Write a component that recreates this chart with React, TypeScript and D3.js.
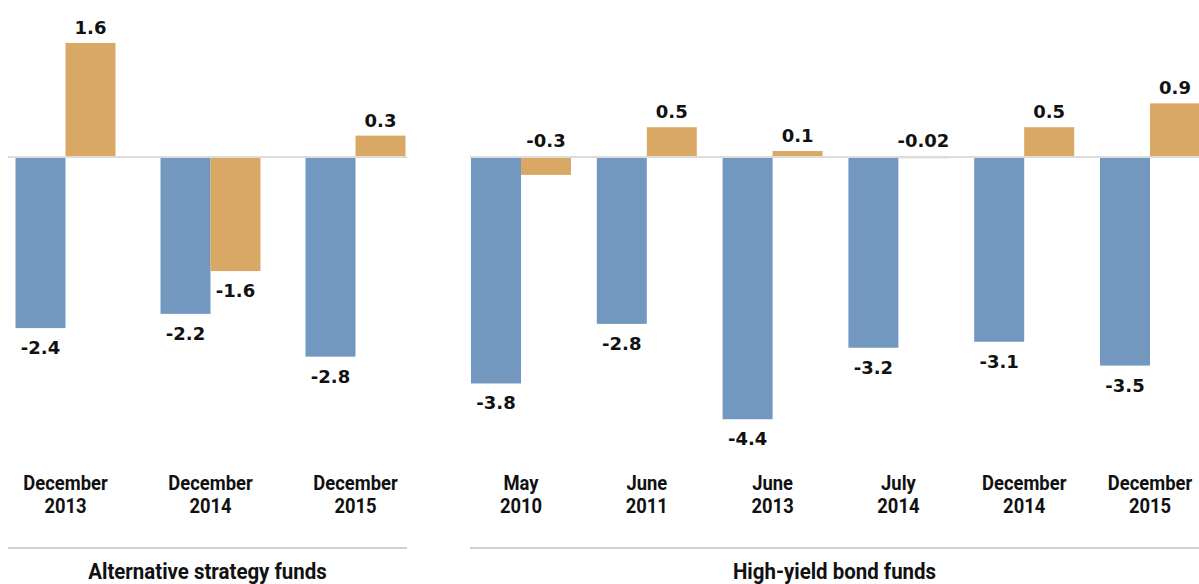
import React from "react";
import * as d3 from "d3";

// ---- Data ----
const altCategories: string[][] = [
  ["December", "2013"],
  ["December", "2014"],
  ["December", "2015"],
];
const altBlue: number[] = [-2.4, -2.2, -2.8];
const altOrange: number[] = [1.6, -1.6, 0.3];
const altTitle = "Alternative strategy funds";

const hyCategories: string[][] = [
  ["May", "2010"],
  ["June", "2011"],
  ["June", "2013"],
  ["July", "2014"],
  ["December", "2014"],
  ["December", "2015"],
];
const hyBlue: number[] = [-3.8, -2.8, -4.4, -3.2, -3.1, -3.5];
const hyOrange: number[] = [-0.3, 0.5, 0.1, -0.02, 0.5, 0.9];
const hyTitle = "High-yield bond funds";

const BLUE = "#7298c0";
const ORANGE = "#d9a865";
const FONT = "'DejaVu Sans', sans-serif";
const COND = "Roboto, 'Noto Sans', sans-serif";

type PanelProps = {
  categories: string[][];
  blue: number[];
  orange: number[];
  title: string;
  centerRange: [number, number];
  yDomain: [number, number];
  yRange: [number, number];
  lineX: [number, number];
};

function Panel({ categories, blue, orange, title, centerRange, yDomain, yRange, lineX }: PanelProps) {
  const idx = categories.map((_, i) => String(i));
  const xc = d3.scalePoint<string>().domain(idx).range(centerRange);
  const inner = d3.scaleBand<string>().domain(["blue", "orange"]).range([-50, 50]).padding(0);
  const y = d3.scaleLinear().domain(yDomain).range(yRange);
  const y0 = y(0);
  const bw = inner.bandwidth();

  const label = (v: number, series: string) => {
    const top = Math.min(y(v), y0);
    const bottom = Math.max(y(v), y0);
    if (v > 0) return top - 9;
    if (series === "orange" && bottom - y0 < 30) return y0 - 10;
    return bottom + 26;
  };

  return (
    <g>
      {categories.map((cat, i) => {
        const c = xc(String(i)) as number;
        const vals: [string, number, string][] = [
          ["blue", blue[i], BLUE],
          ["orange", orange[i], ORANGE],
        ];
        return (
          <g key={i}>
            {vals.map(([s, v, col]) => {
              const x = c + (inner(s) as number);
              return (
                <rect
                  key={s}
                  x={x}
                  y={Math.min(y(v), y0)}
                  width={bw}
                  height={Math.max(Math.abs(y(v) - y0), 0.8)}
                  fill={col}
                />
              );
            })}
          </g>
        );
      })}
      <line x1={lineX[0]} x2={lineX[1]} y1={y0} y2={y0} stroke="#dcdcdc" strokeWidth={2} />
      {categories.map((cat, i) => {
        const c = xc(String(i)) as number;
        const vals: [string, number][] = [
          ["blue", blue[i]],
          ["orange", orange[i]],
        ];
        return (
          <g key={"l" + i}>
            {vals.map(([s, v]) => (
              <text
                key={s}
                x={c + (inner(s) as number) + bw / 2}
                y={label(v, s)}
                textAnchor="middle"
                fontFamily={FONT}
                fontWeight="bold"
                fontSize={18}
                fill="#111"
              >
                {String(v)}
              </text>
            ))}
            <g transform={`translate(${c},0) scale(0.92,1)`}>
              {cat.map((line, j) => (
                <text
                  key={j}
                  x={0}
                  y={490 + j * 23.5}
                  textAnchor="middle"
                  fontFamily={COND}
                  fontWeight={700}
                  fontSize={20}
                  fill="#111"
                >
                  {line}
                </text>
              ))}
            </g>
          </g>
        );
      })}
      <line x1={lineX[0]} x2={lineX[1]} y1={548} y2={548} stroke="#cfcfcf" strokeWidth={2} />
      <g transform={`translate(${(lineX[0] + lineX[1]) / 2},0) scale(0.93,1)`}>
        <text
          x={0}
          y={579}
          textAnchor="middle"
          fontFamily={COND}
          fontWeight={700}
          fontSize={22}
          fill="#111"
        >
          {title}
        </text>
      </g>
    </g>
  );
}

export default function App() {
  return (
    <svg
      width={1199}
      height={584}
      style={{ position: "absolute", left: 0, top: 0, background: "#fff" }}
    >
      <rect width={1199} height={584} fill="#fff" />
      <Panel
        categories={altCategories}
        blue={altBlue}
        orange={altOrange}
        title={altTitle}
        centerRange={[65.5, 355.5]}
        yDomain={[-3, 2]}
        yRange={[157 + 3 * 71.3, 157 - 2 * 71.3]}
        lineX={[8, 407]}
      />
      <Panel
        categories={hyCategories}
        blue={hyBlue}
        orange={hyOrange}
        title={hyTitle}
        centerRange={[521, 1150]}
        yDomain={[-5, 1]}
        yRange={[157 + 5 * 59.6, 157 - 59.6]}
        lineX={[470, 1199]}
      />
    </svg>
  );
}
